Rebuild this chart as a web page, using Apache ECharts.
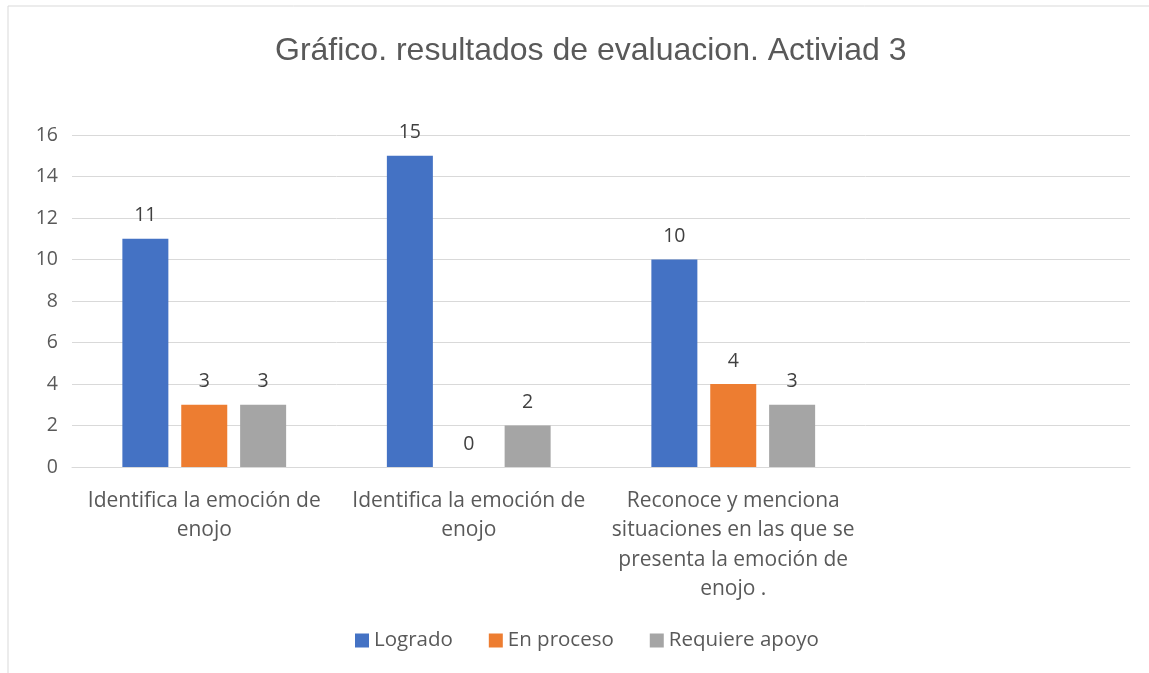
<!DOCTYPE html>
<html>
<head>
<meta charset="utf-8">
<script src="https://cdn.jsdelivr.net/npm/echarts@6/dist/echarts.min.js"></script>
<style>
  html, body { margin: 0; padding: 0; background: #fff; }
  #main { width: 1149px; height: 673px; }
</style>
</head>
<body>
<div id="main"></div>
<script>
var categories = [
    'Identifica la emoción de\nenojo',
    'Identifica la emoción de\nenojo',
    'Reconoce y menciona\nsituaciones en las que se\npresenta la emoción de\nenojo .',
    ''
]
var logrado = [11, 15, 10, null]
var enProceso = [3, 0, 4, null]
var requiereApoyo = [3, 2, 3, null]
var yTicks = [0, 16, 2]  // min, max, interval

var myChart = echarts.init(document.getElementById('main'));

var labelStyle = {
    show : true,
    position : 'top',
    distance : 13,
    color : '#404040',
    fontSize : 19.5,
    fontFamily : 'Open Sans'
}

option = {
    animation : false,
    title : {
        text : 'Gráfico. resultados de evaluacion. Activiad 3',
        left : 270,
        top : 30,
        textStyle : {
            color : '#595959',
            fontSize : 32,
            fontWeight : 'normal',
            fontFamily : 'Liberation Sans'
        }
    },
    legend : {
        bottom : 17,
        left : 350,
        itemWidth : 14,
        itemHeight : 14,
        itemGap : 36,
        icon : 'rect',
        textStyle : {
            color : '#595959',
            fontSize : 20.5,
            fontFamily : 'Open Sans'
        },
        data : [ 'Logrado', 'En proceso', 'Requiere apoyo' ]
    },
    graphic : [ {
        type : 'rect',
        shape : { x : 8, y : 6, width : 1160, height : 700 },
        style : { fill : 'none', stroke : '#d9d9d9', lineWidth : 1 },
        silent : true
    } ],
    grid : {
        left : 72,
        right : 19,
        top : 135,
        bottom : 206
    },
    xAxis : {
        type : 'category',
        data : categories,
        axisLine : { lineStyle : { color : '#d9d9d9' } },
        axisTick : { show : false },
        axisLabel : {
            color : '#595959',
            fontSize : 21,
            fontFamily : 'Open Sans',
            lineHeight : 29.5,
            margin : 19,
            interval : 0
        }
    },
    yAxis : {
        type : 'value',
        min : yTicks[0],
        max : yTicks[1],
        interval : yTicks[2],
        axisLine : { show : false },
        axisTick : { show : false },
        splitLine : { lineStyle : { color : '#d9d9d9', width : 1 } },
        axisLabel : {
            color : '#595959',
            fontSize : 19.5,
            fontFamily : 'Open Sans',
            margin : 14
        }
    },
    series : [ {
        name : 'Logrado',
        type : 'bar',
        data : logrado,
        barWidth : 46,
        barGap : '28%',
        itemStyle : { color : '#4472c4' },
        label : labelStyle
    }, {
        name : 'En proceso',
        type : 'bar',
        data : enProceso,
        barWidth : 46,
        barGap : '28%',
        itemStyle : { color : '#ed7d31' },
        label : labelStyle
    }, {
        name : 'Requiere apoyo',
        type : 'bar',
        data : requiereApoyo,
        barWidth : 46,
        barGap : '28%',
        itemStyle : { color : '#a5a5a5' },
        label : labelStyle
    } ]
};

myChart.setOption(option);
</script>
</body>
</html>
